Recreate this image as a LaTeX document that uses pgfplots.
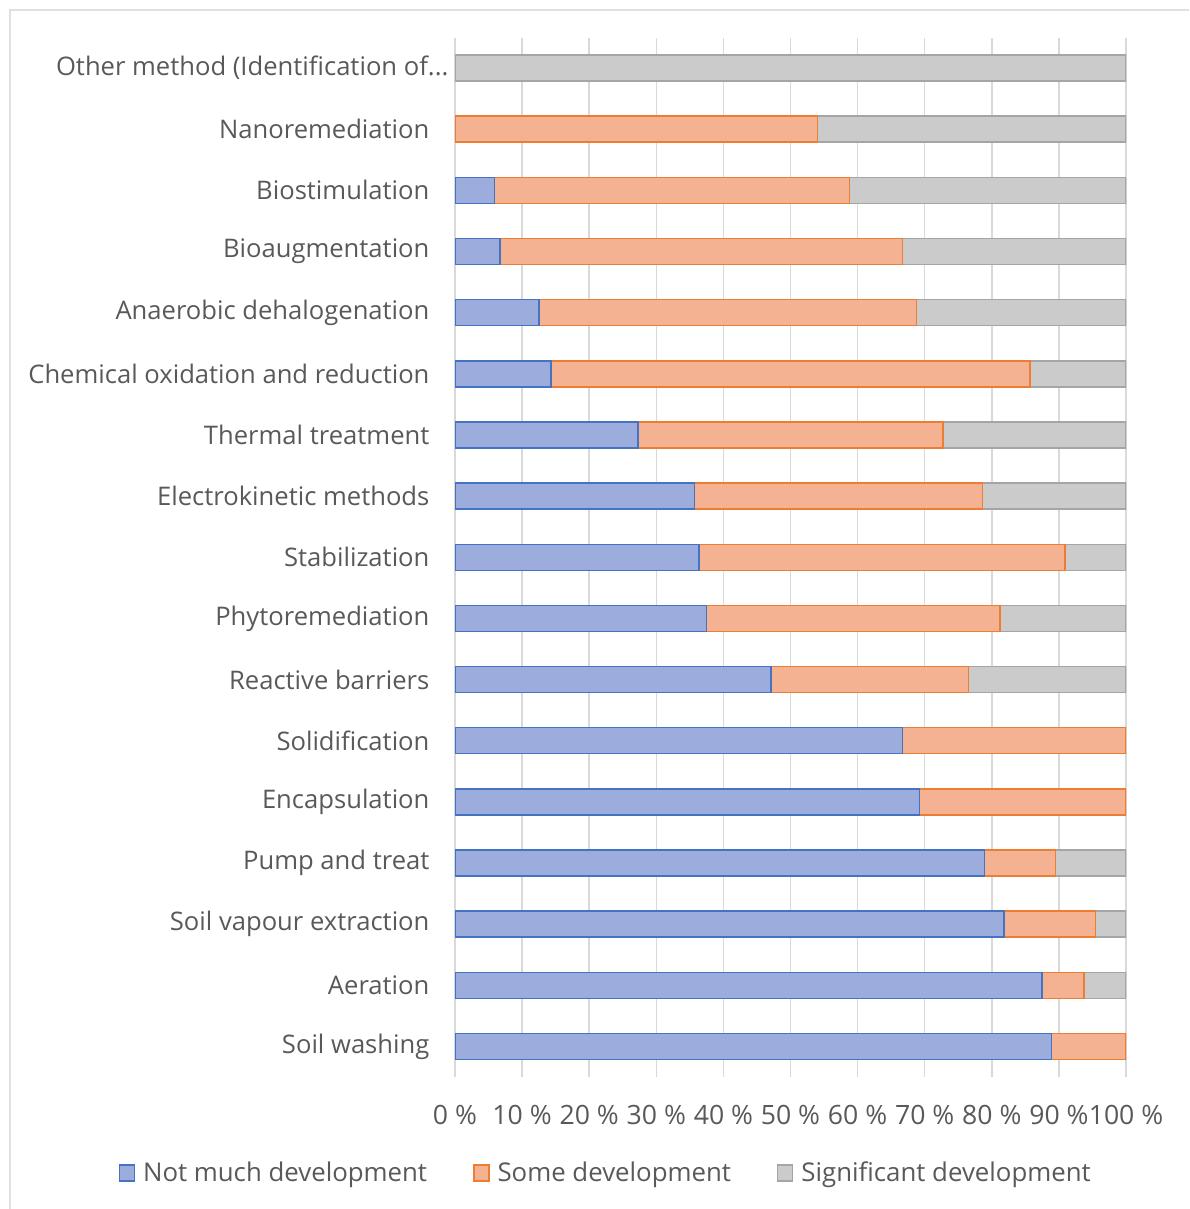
\documentclass[border=0pt]{standalone}
\usepackage{pgfplots}
\pgfplotsset{compat=1.18}
\usepackage{fontspec}
\setmainfont{Open Sans}
\definecolor{txt}{HTML}{595959}
\definecolor{gridc}{HTML}{D9D9D9}
\definecolor{blueB}{HTML}{4472C4}
\definecolor{blueF}{RGB}{155,172,221}
\definecolor{orB}{HTML}{ED7D31}
\definecolor{orF}{RGB}{245,178,146}
\definecolor{grB}{HTML}{A5A5A5}
\definecolor{grF}{RGB}{203,203,203}
\pgfplotsset{
  sq/.style={legend image code/.code={\draw[##1] (0pt,-4pt) rectangle (7.5pt,4pt); \path (9.5pt,0pt);}},
}
\newcommand{\othermethod}{Other method (Identification of.\kern0pt.\kern0pt.\kern-9.5pt}
\begin{document}
\begin{tikzpicture}
\useasboundingbox (0pt,0pt) rectangle (594.5pt,-604.5pt);
\draw[color=black!12, line width=1pt] (5pt,-604.5pt) -- (5pt,-5pt) -- (594.5pt,-5pt);
\begin{axis}[
  at={(227.5pt,-538.5pt)}, anchor=south west,
  scale only axis, width=335.5pt, height=519.75pt,
  xbar, bar width=13pt, bar shift=0pt,
  xmin=0, xmax=100, ymin=-0.5, ymax=16.5,
  xtick={0,10,20,30,40,50,60,70,80,90,100},
  xticklabels={0 \%,10 \%,20 \%,30 \%,40 \%,50 \%,60 \%,70 \%,80 \%,90 \%,100 \%},
  ytick={0,1,2,3,4,5,6,7,8,9,10,11,12,13,14,15,16},
  yticklabels={Soil washing,Aeration,Soil vapour extraction,Pump and treat,Encapsulation,Solidification,Reactive barriers,Phytoremediation,Stabilization,Electrokinetic methods,Thermal treatment,Chemical oxidation and reduction,Anaerobic dehalogenation,Bioaugmentation,Biostimulation,Nanoremediation,{\othermethod}},
  xmajorgrids, major grid style={color=gridc, line width=0.75pt},
  axis line style={draw=none}, major tick style={draw=none},
  tick label style={text=txt},
  yticklabel style={anchor=east, xshift=-5pt, font=\fontsize{12.8}{15}\selectfont},
  xticklabel style={anchor=center, yshift=-19pt, font=\fontsize{13.3}{15}\selectfont},
  reverse legend,
  legend style={at={(0.226,-0.0924)}, anchor=center, legend columns=3, draw=none,
    font=\fontsize{12.9}{15}\selectfont, text=txt,
    /tikz/every even column/.append style={column sep=21pt}},
]
% Significant development (segment ends at 100)
\addplot[sq, draw=grB, line width=0.75pt, fill=grF] coordinates {
 (100,1) (100,2) (100,3) (100,6) (100,7) (100,8) (100,9) (100,10)
 (100,11) (100,12) (100,13) (100,14) (100,15) (100,16)};
% Some development: cumulative end of segment
\addplot[sq, draw=orB, line width=0.75pt, fill=orF] coordinates {
 (100,0) (93.75,1) (95.45,2) (89.5,3) (100,4) (100,5) (76.5,6) (81.25,7)
 (90.9,8) (78.6,9) (72.7,10) (85.7,11) (68.75,12) (66.7,13) (58.8,14) (54,15)};
% Not much development
\addplot[sq, draw=blueB, line width=0.75pt, fill=blueF] coordinates {
 (88.9,0) (87.5,1) (81.8,2) (78.9,3) (69.2,4) (66.7,5) (47.1,6) (37.5,7)
 (36.4,8) (35.7,9) (27.3,10) (14.3,11) (12.5,12) (6.7,13) (5.9,14)};
\legend{Significant development,Some development,Not much development}
\end{axis}
\end{tikzpicture}
\end{document}
